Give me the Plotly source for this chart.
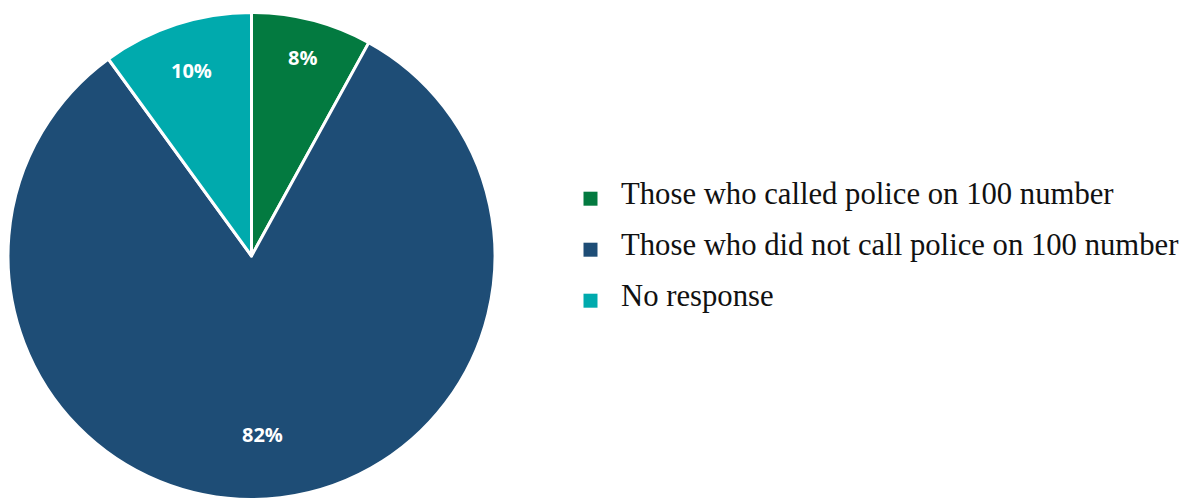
import math
import plotly.graph_objects as go

labels = ["Those who called police on 100 number",
          "Those who did not call police on 100 number",
          "No response"]
values = [8, 82, 10]
colors = ["#037A40", "#1E4D76", "#00AAAD"]

W, H = 1193, 504

# pie placement (pixels)
px0, px1 = 8, 495
py_top, py_bot = 10, 502
cx, cy = (px0 + px1) / 2, (py_top + py_bot) / 2
R = min(px1 - px0, py_bot - py_top) / 2
label_r = [0.84, 0.735, 0.80]   # label distance as fraction of radius (style)

fig = go.Figure()
fig.add_trace(go.Pie(
    labels=labels, values=values, sort=False, direction="clockwise", rotation=0,
    marker=dict(colors=colors, line=dict(color="white", width=3)),
    textinfo="none", hoverinfo="label+percent", showlegend=False,
    domain=dict(x=[px0 / W, px1 / W], y=[(H - py_bot) / H, (H - py_top) / H]),
))

# percentage labels placed at each slice's mid angle
total = sum(values)
cum = 0
for v, fr in zip(values, label_r):
    mid = (cum + v / 2) / total * 2 * math.pi
    cum += v
    lx = cx + fr * R * math.sin(mid)
    ly = cy - fr * R * math.cos(mid)
    fig.add_annotation(x=lx / W, y=(H - ly) / H, xref="paper", yref="paper",
                       text=f"{v}%", showarrow=False, xanchor="center", yanchor="middle",
                       font=dict(family="Open Sans", size=20, color="white", weight="bold"))

# manual legend built from the data lists
mk_x, mk_s = 590.5, 14
txt_x = 619
row_y0, row_dy = 198.7, 51
for i, (lab, col) in enumerate(zip(labels, colors)):
    yc = row_y0 + i * row_dy
    fig.add_shape(type="rect", xref="paper", yref="paper",
                  x0=(mk_x - mk_s / 2) / W, x1=(mk_x + mk_s / 2) / W,
                  y0=(H - yc - mk_s / 2) / H, y1=(H - yc + mk_s / 2) / H,
                  fillcolor=col, line=dict(width=0))
    fig.add_annotation(x=txt_x / W, y=(H - yc + 5) / H, xref="paper", yref="paper",
                       text=lab, showarrow=False, xanchor="left", yanchor="middle",
                       font=dict(family="Liberation Serif", size=30.7, color="#111111"))

fig.update_layout(width=W, height=H, margin=dict(l=0, r=0, t=0, b=0),
                  paper_bgcolor="white", plot_bgcolor="white")
fig.write_html("out.html", config={"displayModeBar": False},
               post_script="document.body.style.margin='0';")
